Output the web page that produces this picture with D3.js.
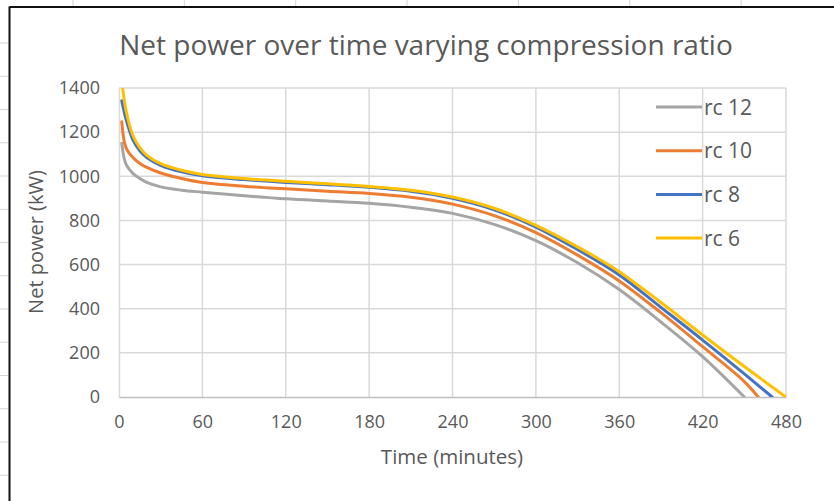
<!DOCTYPE html>
<html>
<head>
<meta charset="utf-8">
<script src="https://cdn.jsdelivr.net/npm/d3@7"></script>
<style>
  html, body { margin: 0; padding: 0; background: #fff; }
  svg { display: block; font-family: "Open Sans", Lato, sans-serif; }
</style>
</head>
<body>
<svg id="chart" width="834" height="501"></svg>
<script>
// Sample times (minutes) and net power (kW) for each compression ratio
const seriesNames = ["rc 12", "rc 10", "rc 8", "rc 6"];
const seriesColors = ["#A5A5A5", "#ED7D31", "#4472C4", "#FFC000"];

const timesRc12 = [2, 5, 10, 15, 20, 30, 45, 60, 90, 120, 150, 180, 210, 240, 270, 300, 330, 360, 390, 420, 450];
const powerRc12 = [1150, 1055, 1013, 990, 972, 952, 937, 928, 912, 898, 888, 878, 860, 832, 782, 708, 608, 487, 340, 183, 0];

const timesRc10 = [2, 5, 10, 15, 20, 30, 45, 60, 90, 120, 150, 180, 210, 240, 270, 300, 330, 360, 390, 420, 450, 460];
const powerRc10 = [1247, 1130, 1085, 1058, 1040, 1015, 990, 972, 955, 943, 932, 922, 905, 874, 822, 745, 643, 526, 382, 228, 70, 0];

const timesRc8 = [2, 5, 10, 15, 20, 30, 45, 60, 90, 120, 150, 180, 210, 240, 270, 300, 330, 360, 390, 420, 450, 470];
const powerRc8 = [1342, 1260, 1165, 1115, 1085, 1050, 1020, 1002, 985, 972, 962, 950, 932, 900, 848, 770, 668, 553, 406, 258, 105, 0];

const timesRc6 = [2, 5, 10, 15, 20, 30, 45, 60, 90, 120, 150, 180, 210, 240, 270, 300, 330, 360, 390, 420, 450, 480];
const powerRc6 = [1435, 1300, 1185, 1130, 1095, 1057, 1027, 1008, 990, 977, 966, 954, 937, 906, 855, 778, 680, 568, 428, 281, 138, 0];

const xTicks = [0, 60, 120, 180, 240, 300, 360, 420, 480];
const yTicks = [0, 200, 400, 600, 800, 1000, 1200, 1400];

const chartTitle = "Net power over time varying compression ratio";
const xTitle = "Time (minutes)";
const yTitle = "Net power (kW)";

const allTimes = [timesRc12, timesRc10, timesRc8, timesRc6];
const allPower = [powerRc12, powerRc10, powerRc8, powerRc6];

const series = seriesNames.map((name, i) => ({
  name,
  color: seriesColors[i],
  points: allTimes[i].map((t, j) => ({ t, p: allPower[i][j] }))
}));

const svg = d3.select("#chart");
const W = 834, H = 501;
const textColor = "#595959";
const font = "'Open Sans', sans-serif";

svg.append("rect").attr("width", W).attr("height", H).attr("fill", "#fff");

// Sheet cell grid stubs peeking outside the chart frame
const sheetTick = "#d4d4d4";
svg.append("g").selectAll("line")
  .data(d3.range(14).map(k => 43 + k * 33.25))
  .join("line")
  .attr("x1", 0).attr("x2", 8)
  .attr("y1", d => d).attr("y2", d => d)
  .attr("stroke", sheetTick).attr("stroke-width", 1);
svg.append("g").selectAll("line")
  .data(d3.range(7).map(k => 73 + k * 111.35))
  .join("line")
  .attr("x1", d => d).attr("x2", d => d)
  .attr("y1", 0).attr("y2", 6)
  .attr("stroke", sheetTick).attr("stroke-width", 1);

// Chart frame edges (left and top)
svg.append("line").attr("x1", 9.5).attr("x2", 9.5).attr("y1", 6.5).attr("y2", H)
  .attr("stroke", "#111").attr("stroke-width", 2);
svg.append("line").attr("x1", 9.5).attr("x2", W).attr("y1", 7).attr("y2", 7)
  .attr("stroke", "#111").attr("stroke-width", 2);

const plot = { left: 119, right: 786, top: 88, bottom: 397 };

const x = d3.scaleLinear().domain([0, 480]).range([plot.left, plot.right]);
const y = d3.scaleLinear().domain([0, 1400]).range([plot.bottom, plot.top]);

// Gridlines
const grid = svg.append("g");
grid.selectAll(".hg").data(yTicks.filter(v => v > 0)).join("line")
  .attr("x1", plot.left).attr("x2", plot.right)
  .attr("y1", d => y(d)).attr("y2", d => y(d))
  .attr("stroke", "#d9d9d9").attr("stroke-width", 1.5);
grid.selectAll(".vg").data(xTicks.filter(v => v > 0)).join("line")
  .attr("x1", d => x(d)).attr("x2", d => x(d))
  .attr("y1", plot.top).attr("y2", plot.bottom)
  .attr("stroke", "#d9d9d9").attr("stroke-width", 1.5);

// Axes
const yAxis = svg.append("g")
  .attr("transform", `translate(${plot.left},0)`)
  .call(d3.axisLeft(y).tickValues(yTicks).tickFormat(d3.format("d")).tickSize(0).tickPadding(19));
yAxis.select(".domain").attr("stroke", "#d9d9d9").attr("stroke-width", 1.5);
yAxis.selectAll("text").attr("fill", textColor).attr("font-size", 18)
  .attr("font-family", font);

const xAxis = svg.append("g")
  .attr("transform", `translate(0,${plot.bottom})`)
  .call(d3.axisBottom(x).tickValues(xTicks).tickFormat(d3.format("d")).tickSize(0).tickPadding(18));
xAxis.select(".domain").attr("stroke", "#bfbfbf").attr("stroke-width", 1.5);
xAxis.selectAll("text").attr("fill", textColor).attr("font-size", 18)
  .attr("font-family", font);

// Series lines
svg.append("clipPath").attr("id", "plotClip")
  .append("rect")
  .attr("x", plot.left).attr("y", plot.top)
  .attr("width", plot.right - plot.left).attr("height", plot.bottom - plot.top);

const line = d3.line()
  .x(d => x(d.t))
  .y(d => y(d.p))
  .curve(d3.curveCatmullRom.alpha(0.5));

svg.append("g").attr("clip-path", "url(#plotClip)")
  .selectAll("path").data(series).join("path")
  .attr("d", d => line(d.points))
  .attr("fill", "none")
  .attr("stroke", d => d.color)
  .attr("stroke-width", 3)
  .attr("stroke-linejoin", "round")
  .attr("stroke-linecap", "round");

// Legend
const legend = svg.append("g");
const legendRows = legend.selectAll("g").data(series).join("g")
  .attr("transform", (d, i) => `translate(656,${107 + i * 43.7})`);
legendRows.append("line")
  .attr("x1", 0).attr("x2", 46).attr("y1", 0).attr("y2", 0)
  .attr("stroke", d => d.color).attr("stroke-width", 3);
legendRows.append("text")
  .attr("x", 48).attr("y", 0).attr("dy", "0.36em")
  .attr("fill", textColor).attr("font-size", 21)
  .text(d => d.name);

// Titles
svg.append("text")
  .attr("x", 426).attr("y", 55)
  .attr("text-anchor", "middle")
  .attr("fill", textColor).attr("font-size", 28)
  .text(chartTitle);

svg.append("text")
  .attr("x", 452).attr("y", 464)
  .attr("text-anchor", "middle")
  .attr("fill", textColor).attr("font-size", 20.5)
  .text(xTitle);

svg.append("text")
  .attr("transform", "translate(43,242) rotate(-90)")
  .attr("text-anchor", "middle")
  .attr("fill", textColor).attr("font-size", 20)
  .text(yTitle);
</script>
</body>
</html>
